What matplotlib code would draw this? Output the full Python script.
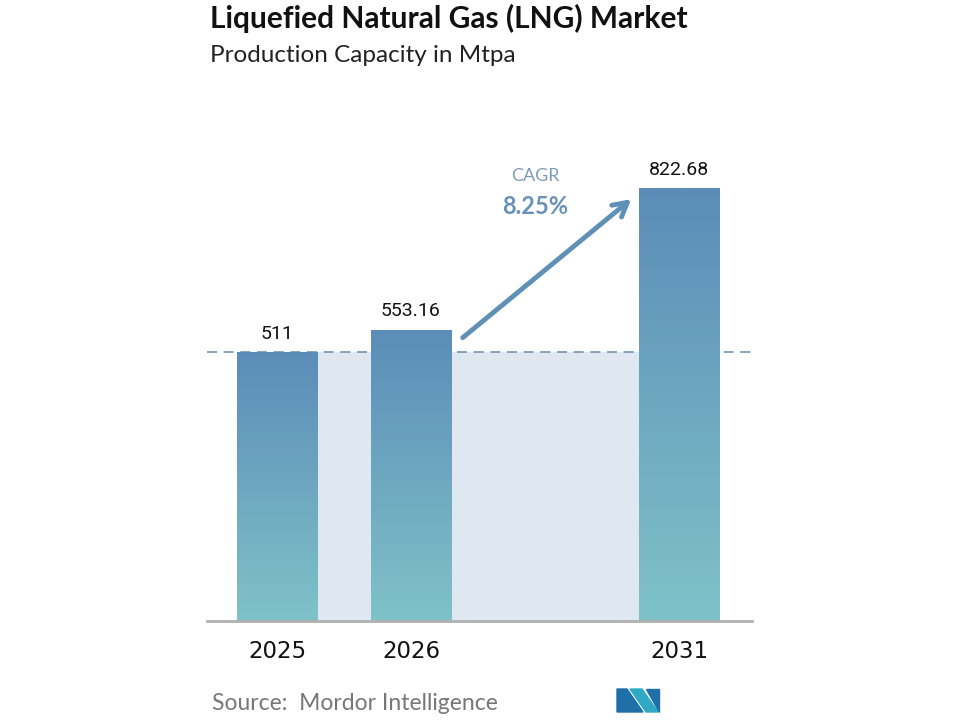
import matplotlib.pyplot as plt
import numpy as np
from matplotlib.patches import Polygon

years = ["2025", "2026", "2031"]
values = [511, 553.16, 822.68]
labels = ["511", "553.16", "822.68"]
positions = [0, 1, 3]
cagr = "8.25%"

top_color = np.array([0x5b, 0x8d, 0xb8]) / 255
bottom_color = np.array([0x7f, 0xc2, 0xc8]) / 255

plt.rcParams["font.family"] = ["Lato", "DejaVu Sans"]

fig = plt.figure(figsize=(9.6, 7.2), dpi=100)
ax = fig.add_axes([207 / 960, 1 - 621 / 720, 545 / 960, 521 / 720])

width = 0.6
# shaded band between the first bar and the last one, up to the first value
ax.fill_between([positions[0] + width / 2, positions[2] - width / 2], 0, values[0],
                color="#dfe8f0", zorder=0)
ax.axhline(values[0], color="#7595b0", lw=1.2, ls=(0, (6, 4)), zorder=1)

grad = np.linspace(0, 1, 256)[:, None, None]
grad_img = top_color * (1 - grad) + bottom_color * grad
bars = ax.bar(positions, values, width=width, color="none", zorder=2)
for bar, val, lab in zip(bars, values, labels):
    x0 = bar.get_x()
    im = ax.imshow(grad_img, extent=[x0, x0 + width, 0, val], aspect="auto",
                   origin="upper", zorder=2)
    im.set_clip_path(bar)
    ax.text(x0 + width / 2, val + 18, lab, ha="center", va="bottom",
            fontsize=14, color="#111111", fontfamily="Roboto")

ax.set_aspect("auto")
ax.set_xlim(-0.522, 3.545)
ax.set_ylim(0, 990)

ax.annotate("", xy=(2.66, 805), xytext=(1.37, 535),
            arrowprops=dict(arrowstyle="->,head_length=1.0,head_width=0.55",
                            color="#5f90b6", lw=3.5))
ax.text(1.93, 845, "CAGR", ha="center", va="center", fontsize=13,
        color="#7d9cb8")
ax.text(1.93, 788, cagr, ha="center", va="center", fontsize=17,
        fontweight="bold", color="#6a92b8")

for s in ["top", "right", "left"]:
    ax.spines[s].set_visible(False)
ax.spines["bottom"].set_color("#b0b0b0")
ax.spines["bottom"].set_linewidth(2)
ax.set_yticks([])
ax.set_xticks(positions)
ax.set_xticklabels(years, fontsize=16.5, fontfamily="DejaVu Sans", color="#111111")
ax.tick_params(axis="x", length=0, pad=14)

fig.text(210 / 960, 1 - 18 / 720, "Liquefied Natural Gas (LNG) Market",
         fontsize=21.5, fontweight="bold", color="#111111", va="center")
fig.text(210 / 960, 1 - 55 / 720, "Production Capacity in Mtpa",
         fontsize=17.5, color="#222222", va="center")
fig.text(212 / 960, 1 - 703 / 720, "Source:  Mordor Intelligence",
         fontsize=16.5, color="#777777", va="center")

# logo
def px(x, y):
    return (x / 960, 1 - y / 720)

logo = [
    ([(617, 712), (617, 689), (627, 689), (643, 712)], "#1f6fa8"),
    ([(630, 689), (642, 689), (658, 712), (646, 712)], "#2fa9c4"),
    ([(646, 689), (659, 689), (659, 712)], "#1f6fa8"),
]
for pts, c in logo:
    fig.patches.append(Polygon([px(*p) for p in pts], closed=True, color=c,
                               transform=fig.transFigure, figure=fig))

fig.savefig("out.png", dpi=100)
